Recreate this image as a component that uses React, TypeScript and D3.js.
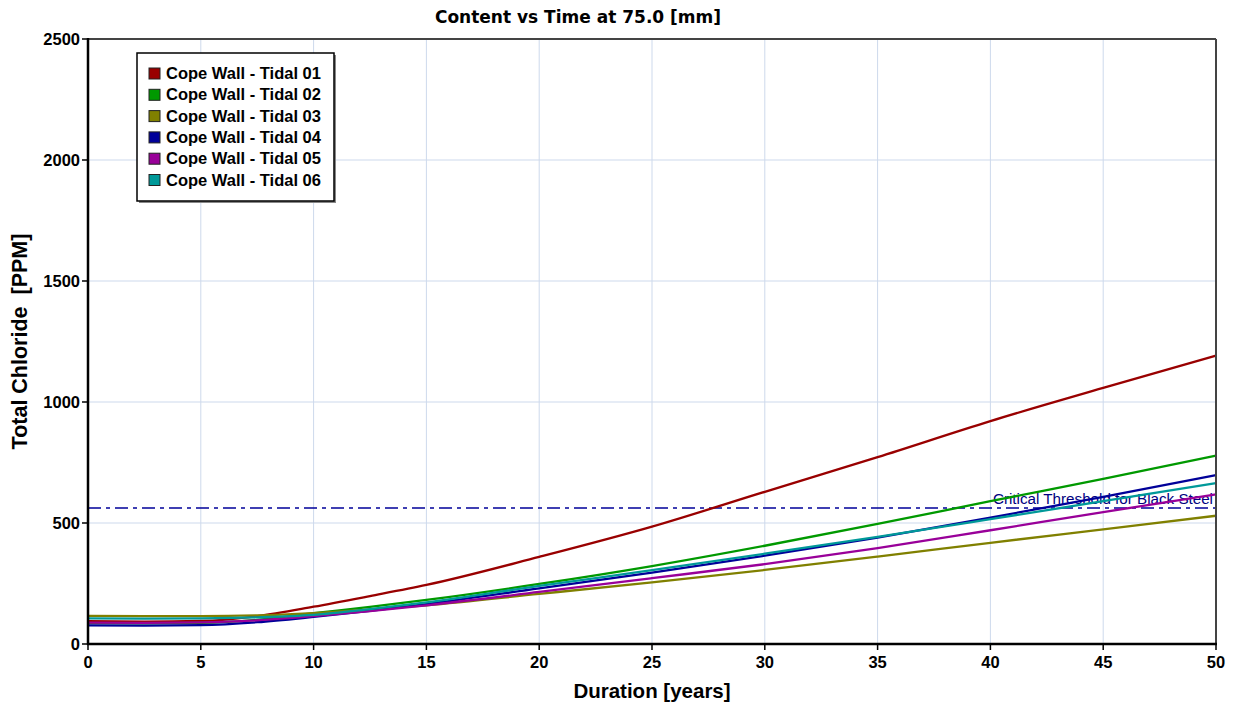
import * as d3 from 'd3';

const years = [0, 2.5, 5, 7.5, 10, 12.5, 15, 20, 25, 30, 35, 40, 45, 50];

const seriesNames = [
  'Cope Wall - Tidal 01',
  'Cope Wall - Tidal 02',
  'Cope Wall - Tidal 03',
  'Cope Wall - Tidal 04',
  'Cope Wall - Tidal 05',
  'Cope Wall - Tidal 06',
];
const seriesColors = ['#990000', '#009900', '#808000', '#000099', '#990099', '#009999'];

const tidal01 = [94, 92, 95, 115, 154, 198, 244, 360, 485, 629, 772, 921, 1058, 1192];
const tidal02 = [86, 85, 87, 100, 127, 153, 182, 248, 322, 406, 496, 590, 682, 778];
const tidal03 = [116, 115, 115, 118, 128, 143, 160, 207, 255, 306, 361, 418, 474, 530];
const tidal04 = [77, 76, 78, 90, 112, 137, 165, 230, 295, 365, 440, 522, 608, 698];
const tidal05 = [88, 87, 89, 98, 115, 136, 160, 215, 272, 330, 396, 470, 545, 618];
const tidal06 = [106, 105, 106, 110, 120, 144, 172, 240, 305, 373, 443, 516, 590, 665];
const seriesValues = [tidal01, tidal02, tidal03, tidal04, tidal05, tidal06];

const xTicks = [0, 5, 10, 15, 20, 25, 30, 35, 40, 45, 50];
const yTicks = [0, 500, 1000, 1500, 2000, 2500];
const threshold = 562;
const thresholdLabel = 'Critical Threshold for Black Steel';

export default function App() {
  const width = 1240;
  const height = 705;
  const margin = { top: 39, right: 24, bottom: 61, left: 88 };
  const innerWidth = width - margin.left - margin.right;
  const innerHeight = height - margin.top - margin.bottom;

  const x = d3.scaleLinear().domain([0, 50]).range([0, innerWidth]);
  const y = d3.scaleLinear().domain([0, 2500]).range([innerHeight, 0]);

  const line = d3.line<number>()
    .x((_, i) => x(years[i]))
    .y(d => y(d))
    .curve(d3.curveMonotoneX);

  const font = 'Arial, "Liberation Sans", sans-serif';

  return (
    <svg width={width} height={height} style={{ position: 'absolute', left: 0, top: 0, background: '#fff' }}
      fontFamily={font}>
      <text x={578} y={23} textAnchor="middle" fontWeight="bold" fontSize={17}
        fontFamily='"DejaVu Sans", Verdana, sans-serif'>Content vs Time at 75.0 [mm]</text>
      <g transform={`translate(${margin.left},${margin.top})`}>
        {xTicks.slice(1, -1).map(t => (
          <line key={'gx' + t} x1={x(t)} x2={x(t)} y1={0} y2={innerHeight} stroke="#cdd9ec" strokeWidth={1} />
        ))}
        {yTicks.slice(1, -1).map(t => (
          <line key={'gy' + t} x1={0} x2={innerWidth} y1={y(t)} y2={y(t)} stroke="#cdd9ec" strokeWidth={1} />
        ))}

        <line x1={0} x2={innerWidth} y1={y(threshold)} y2={y(threshold)} stroke="#000099"
          strokeWidth={1.3} strokeDasharray="13,5,4,5" />
        <text x={innerWidth - 3} y={y(threshold) - 4} textAnchor="end" fontSize={15.2} fill="#000080">{thresholdLabel}</text>

        {seriesValues.map((vals, i) => (
          <path key={seriesNames[i]} d={line(vals) || ''} fill="none" stroke={seriesColors[i]} strokeWidth={2.3} />
        ))}

        <line x1={0} x2={innerWidth} y1={0} y2={0} stroke="#444" strokeWidth={2} />
        <line x1={innerWidth} x2={innerWidth} y1={0} y2={innerHeight} stroke="#444" strokeWidth={2} />
        <line x1={0} x2={0} y1={-1} y2={innerHeight + 1} stroke="#000" strokeWidth={2.5} />
        <line x1={-1} x2={innerWidth + 1} y1={innerHeight} y2={innerHeight} stroke="#000" strokeWidth={2.5} />

        {yTicks.map(t => (
          <g key={'ty' + t} transform={`translate(0,${y(t)})`}>
            <line x1={-6} x2={0} stroke="#000" strokeWidth={1.5} />
            <text x={-8} dy="0.36em" textAnchor="end" fontWeight="bold" fontSize={16.5}>{t}</text>
          </g>
        ))}
        {xTicks.map(t => (
          <g key={'tx' + t} transform={`translate(${x(t)},${innerHeight})`}>
            <line y1={0} y2={6} stroke="#000" strokeWidth={1.5} />
            <text y={24} textAnchor="middle" fontWeight="bold" fontSize={16.5}>{t}</text>
          </g>
        ))}

        <text x={innerWidth / 2} y={innerHeight + 54} textAnchor="middle" fontWeight="bold" fontSize={20.5}>Duration [years]</text>
        <text transform={`translate(${-61},${innerHeight / 2}) rotate(-90)`} textAnchor="middle" fontWeight="bold" fontSize={21.5}
          style={{ whiteSpace: 'pre' }}>{'Total Chloride  [PPM]'}</text>

        <g transform="translate(49,14)">
          <rect x={2} y={2} width={197} height={148} fill="#888" />
          <rect x={0} y={0} width={197} height={148} fill="#fff" stroke="#000" strokeWidth={1.5} />
          {seriesNames.map((name, i) => (
            <g key={'lg' + i} transform={`translate(12,${15 + i * 21.3})`}>
              <rect x={0} y={0} width={11} height={11} fill={seriesColors[i]} stroke="#222" strokeWidth={1} />
              <text x={17} y={11} fontWeight="bold" fontSize={16.5}>{name}</text>
            </g>
          ))}
        </g>
      </g>
    </svg>
  );
}
